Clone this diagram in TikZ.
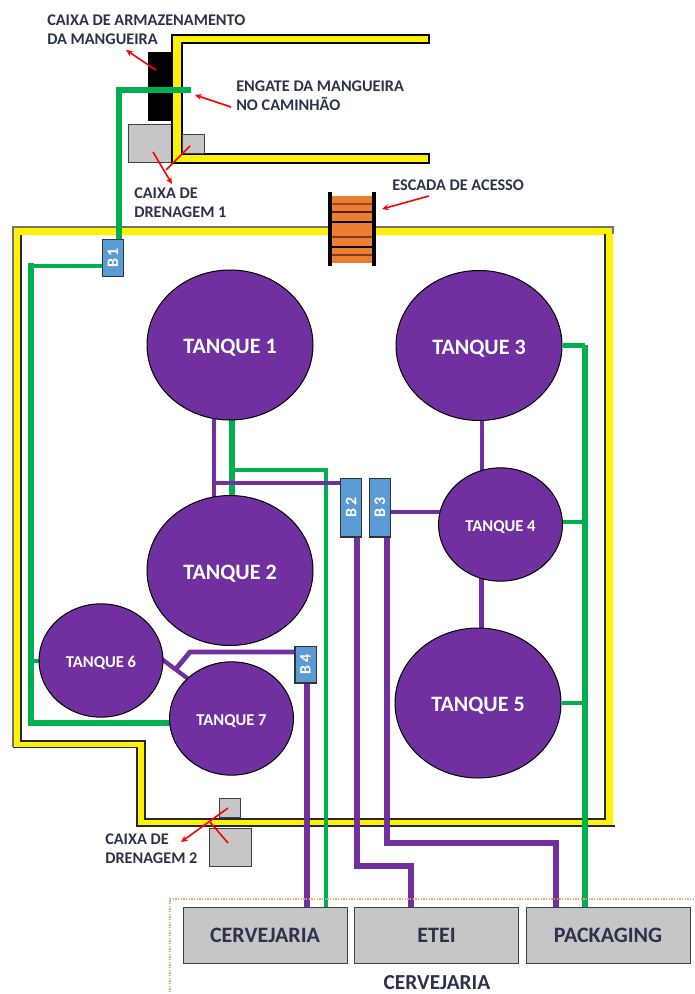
\documentclass[tikz,border=0pt]{standalone}
\usepackage{fontspec}
\setmainfont{Carlito}
\usetikzlibrary{shapes.geometric,arrows.meta,backgrounds}
\definecolor{tankpurple}{RGB}{112,48,160}
\definecolor{pipegreen}{RGB}{0,176,80}
\definecolor{valveblue}{RGB}{91,155,213}
\definecolor{stairorange}{RGB}{237,125,49}
\definecolor{boxgray}{RGB}{198,198,198}
\definecolor{labelink}{RGB}{45,50,75}
\begin{document}
\begin{tikzpicture}[x=0.75pt, y=-0.75pt,
    tank/.style={ellipse, draw=black, line width=0.75pt, fill=tankpurple, inner sep=0pt, text height=12.8pt, text depth=0pt,
        text=white, font=\bfseries\fontsize{16.5}{18}\selectfont, minimum width=124.5pt, minimum height=112.5pt},
    smalltank/.style={tank, text height=11.2pt, font=\bfseries\fontsize{12.4}{14}\selectfont, minimum width=93pt, minimum height=85pt},
    valve/.style={rectangle, rotate=90, draw=black!80, line width=1pt, fill=valveblue, inner sep=0pt,
        text=white, font=\bfseries\fontsize{12}{14}\selectfont, minimum height=16pt},
    graybox/.style={rectangle, draw=black!75, line width=0.75pt, fill=boxgray, inner sep=0pt},
    plant/.style={graybox, text=labelink, font=\bfseries\fontsize{16.5}{18}\selectfont, minimum width=123pt, minimum height=42pt},
    lab/.style={font=\bfseries\fontsize{12.2}{14.25}\selectfont, text=labelink, anchor=west, align=left, inner sep=0pt},
    purplepipe/.style={draw=tankpurple, line width=4.5pt},
    thinpurple/.style={draw=tankpurple, line width=3pt},
    greenpipe/.style={draw=pipegreen, line width=4.5pt},
    thingreen/.style={draw=pipegreen, line width=3pt},
    redline/.style={draw=red, line width=1.2pt},
    redarr/.style={redline, -{Stealth[length=5pt,width=4.5pt]}}
]
    \useasboundingbox (0,0) rectangle (694,994);

    % tanks
    \node[tank] (T1) at (230,345) {TANQUE 1};
    \node[tank] (T2) at (230,570.5) {TANQUE 2};
    \node[tank] (T3) at (479,345.5) {TANQUE 3};
    \node[smalltank] (T4) at (500.5,524.5) {TANQUE 4};
    \node[tank] (T5) at (478,703) {TANQUE 5};
    \node[smalltank] (T6) at (101,660.5) {TANQUE 6};
    \node[smalltank] (T7) at (231.5,718.5) {TANQUE 7};

    % valves
    \node[valve, minimum width=27.5pt] (B1) at (113,258) {B\,1};
    \node[valve, minimum width=44pt] (B2) at (351,507.5) {B\,2};
    \node[valve, minimum width=44pt] (B3) at (380,507.5) {B\,3};
    \node[valve, minimum width=27.5pt] (B4) at (305.5,664.5) {B\,4};

    % destination boxes
    \draw[densely dotted, draw=stairorange!70, line width=1pt] (694,899) -- (170,899) -- (170,994);
    \node[plant] (CV) at (265,935) {CERVEJARIA};
    \node[plant] (ET) at (436.5,935) {ETEI};
    \node[plant] (PK) at (608,935) {PACKAGING};
    \node[font=\bfseries\fontsize{16}{18}\selectfont, text=labelink, inner sep=0pt] (CVlabel) at (437,983) {CERVEJARIA};

    % junction points of the pipes
    \coordinate (jA) at (214,483);
    \coordinate (jB) at (232,470);
    \coordinate (jC) at (326,470);
    \coordinate (jD) at (357,866);
    \coordinate (jE) at (411,866);
    \coordinate (jF) at (386.5,843);
    \coordinate (jG) at (556,843);
    \coordinate (jH) at (481.5,512);
    \coordinate (jI) at (585,522);
    \coordinate (jJ) at (190,652);
    \coordinate (jK) at (175,670);
    \coordinate (jL) at (307,722);
    \coordinate (jM) at (31,266);
    \coordinate (jN) at (119,90);
    \coordinate (jO) at (191,90);
    \coordinate (jP) at (31,723);
    \coordinate (jQ) at (143,645);
    \coordinate (jR) at (207,693);

    \begin{pgfonlayer}{background}
        % yard wall
        \draw[yellow, line width=5.6pt] (17,231) -- (609,231) -- (609,822.5) -- (141,822.5) -- (141,744) -- (17,744) -- cycle;
        \draw[black!55, line width=1.3pt] (13,747) -- (13,227) -- (613,227) -- (613,234);
        \draw[black!85, line width=0.9pt] (13,747.5) -- (137,747.5) -- (137,826) -- (615,826);
        \draw[black!85, line width=0.9pt] (21,235) -- (21,741) -- (145,741) -- (145,819) -- (605,819) -- (605,234);

        % truck bay and boxes behind it
        \node[rectangle, fill=black, inner sep=0pt, minimum width=18pt, minimum height=52pt] (hosebox) at (160,86.5) {};
        \node[graybox, minimum width=32.25pt, minimum height=28.5pt] (drainA) at (149.5,144) {};
        \draw[black, line width=0.9pt, fill=yellow] (429,35) -- (172,35) -- (172,163) -- (429,163) -- (429,154) -- (182,154) -- (182,43) -- (429,43) -- cycle;
        \node[graybox, minimum width=16.5pt, minimum height=14.25pt] (drainB) at (193,144.5) {};

        % drain boxes at the bottom
        \node[graybox, minimum width=15.75pt, minimum height=14.25pt] (drainC) at (230,807.5) {};
        \node[graybox, minimum width=31.5pt, minimum height=28.5pt] (drainD) at (230,847) {};

        % green lines
        \draw[thingreen] (jM) -- (jM -| B1);
        \draw[greenpipe] (jO) -- (jN) -- (B1 -| jN);
        \draw[greenpipe, line cap=rect] (jM) -- (jP) -- (T7 |- jP);
        \draw[thingreen] (T6 -| jM) -- (T6);
        \draw[greenpipe] (T1 -| jB) -- (T2 -| jB);
        \draw[thingreen, line width=3.6pt] (jB) -- (jC) -- (CV -| jC);
        \draw[greenpipe] (T3 -| jI) -- (PK -| jI);
        \draw[thingreen] (T3) -- (T3 -| jI);
        \draw[thingreen] (T4 |- jI) -- (jI);
        \draw[thingreen] (T5) -- (T5 -| jI);

        % purple lines
        \draw[thinpurple, line width=3.6pt] (T1 -| jA) -- (T2 -| jA);
        \draw[thinpurple] (jA) -- (B2 |- jA);
        \draw[thinpurple] (T3 -| jH) -- (T4 -| jH);
        \draw[thinpurple, line width=3.6pt] (T4 -| jH) -- (T5 -| jH);
        \draw[thinpurple] (B3 |- jH) -- (T4 |- jH);
        \draw[purplepipe] (B2 -| jD) -- (jD) -- (jE) -- (ET.north -| jE);
        \draw[purplepipe] (B3 -| jF) -- (jF) -- (jG) -- (PK.north -| jG);
        \draw[purplepipe] (B4 -| jL) -- (CV.north -| jL);
        \draw[thinpurple, line width=3.6pt] (B4 |- jJ) -- (jJ) -- (jK);
        \draw[thinpurple, line width=3.2pt] (jQ) -- (jR);
    \end{pgfonlayer}

    % access stairs
    \node[rectangle, fill=stairorange, inner sep=0pt, minimum width=33pt, minimum height=50pt] (stair) at (352,229.5) {};
    \foreach \yy/\cc in {204/stairorange!60!black, 212/stairorange!30!black, 222/black, 237/stairorange!50!black, 247/black, 255/stairorange!50!black}
        \draw[\cc, line width=0.8pt] (330,\yy) -- (374,\yy);
    \draw[black, line width=2.4pt] (330,192) -- (330,266);
    \draw[black, line width=2.4pt] (374,192) -- (374,266);

    % labels
    \node[lab] (lHose) at (47,30) {CAIXA DE ARMAZENAMENTO\\DA MANGUEIRA};
    \node[lab] (lCoupler) at (236,96) {ENGATE DA MANGUEIRA\\NO CAMINHÃO};
    \node[lab] (lDrainA) at (134,203) {CAIXA DE\\DRENAGEM 1};
    \node[lab] (lStair) at (392,185) {ESCADA DE ACESSO};
    \node[lab] (lDrainB) at (105,849) {CAIXA DE\\DRENAGEM 2};

    % red pointers
    \coordinate (rA) at (156,70);
    \coordinate (rB) at (126,50);
    \coordinate (rC) at (231,107);
    \coordinate (rD) at (195,95);
    \coordinate (rE) at (429,196);
    \coordinate (rF) at (382,209);
    \coordinate (rG) at (190,146);
    \coordinate (rH) at (166,170);
    \coordinate (rI) at (153,152);
    \coordinate (rJ) at (172,184);
    \coordinate (rK) at (228,808);
    \coordinate (rL) at (181,842);
    \coordinate (rM) at (228,843);
    \coordinate (rN) at (210,822);
    \draw[redarr] (rA) -- (rB);
    \draw[redarr] (rC) -- (rD);
    \draw[redarr] (rE) -- (rF);
    \draw[redline] (rG) -- (rH);
    \draw[redarr] (rI) -- (rJ);
    \draw[redarr] (rK) -- (rL);
    \draw[redline] (rM) -- (rN);
\end{tikzpicture}
\end{document}
